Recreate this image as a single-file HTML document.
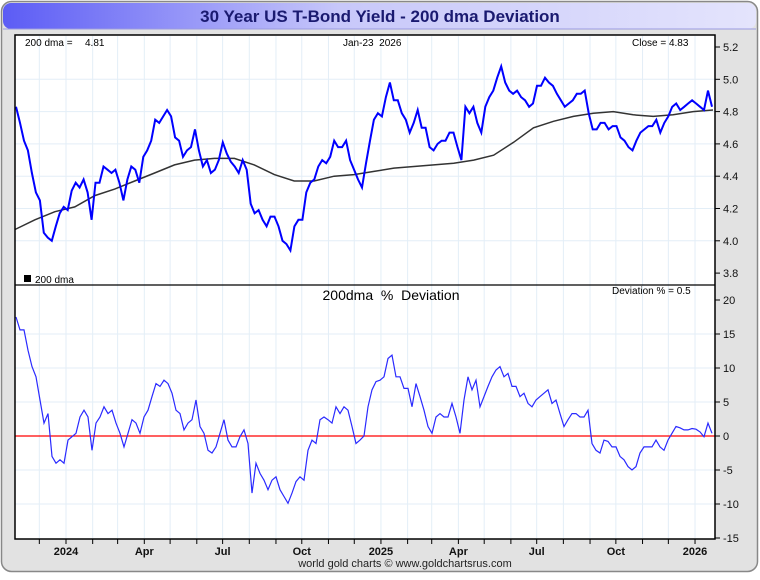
<!DOCTYPE html>
<html><head><meta charset="utf-8"><style>
body{margin:0;width:760px;height:575px;overflow:hidden;background:#fff;font-family:"Liberation Sans",sans-serif}
</style></head><body>
<svg id="c" width="760" height="575" xmlns="http://www.w3.org/2000/svg">
<defs><linearGradient id="tg" x1="0" x2="1"><stop offset="0" stop-color="#5c5cf5"/><stop offset="0.45" stop-color="#c8c8fa"/><stop offset="1" stop-color="#e4e4fc"/></linearGradient></defs>
<rect x="1.5" y="1.5" width="756" height="570" rx="10" fill="#e2e2e2" stroke="#888" stroke-width="1.5"/>
<rect x="3" y="3" width="753" height="26" rx="8" fill="url(#tg)"/>
<line x1="3" y1="29" x2="756" y2="29" stroke="#9a9ae0"/>
<text x="380" y="22" text-anchor="middle" font-size="17" font-weight="bold" fill="#1a1a70">30 Year US T-Bond Yield - 200 dma Deviation</text>
<rect x="15" y="35" width="700" height="504" fill="#fff"/>
<g id="grid"></g>
<g id="marks"></g>
<rect x="15" y="35" width="700" height="504" fill="none" stroke="#000" stroke-width="1.5"/>
<line x1="15" y1="285" x2="715" y2="285" stroke="#000" stroke-width="1.2"/>
<g id="axes" font-size="11" fill="#111"></g>
<text x="25" y="46" font-size="10">200 dma =<tspan x="85">4.81</tspan></text>
<text x="343" y="46" font-size="10">Jan-23&#160;&#160;2026</text>
<text x="632" y="46" font-size="10">Close = 4.83</text>
<rect x="24" y="275" width="7" height="7" fill="#000"/>
<text x="35" y="283" font-size="10">200 dma</text>
<text x="391" y="300" font-size="14" text-anchor="middle">200dma&#160;&#160;%&#160;&#160;Deviation</text>
<text x="612" y="294" font-size="10">Deviation % = 0.5</text>
<text x="405" y="567" font-size="11" text-anchor="middle" fill="#222">world gold charts © www.goldchartsrus.com</text>
</svg>
<script>
const priceClose=[4.83,4.73,4.62,4.56,4.42,4.30,4.25,4.05,4.02,4.00,4.09,4.17,4.21,4.19,4.31,4.36,4.33,4.38,4.30,4.13,4.36,4.36,4.46,4.44,4.42,4.44,4.36,4.25,4.38,4.46,4.44,4.36,4.52,4.56,4.62,4.75,4.73,4.77,4.81,4.77,4.64,4.62,4.52,4.56,4.58,4.69,4.56,4.46,4.50,4.42,4.44,4.50,4.61,4.54,4.49,4.46,4.42,4.50,4.44,4.23,4.17,4.19,4.13,4.09,4.15,4.15,4.09,4.00,3.98,3.94,4.09,4.13,4.13,4.30,4.36,4.38,4.46,4.50,4.48,4.52,4.62,4.58,4.58,4.62,4.50,4.44,4.38,
4.33,4.48,4.62,4.75,4.79,4.77,4.89,4.98,4.87,4.87,4.79,4.75,4.67,4.73,4.81,4.70,4.70,4.58,4.56,4.60,4.62,4.62,4.67,4.67,4.58,4.50,4.83,4.79,4.83,4.73,4.67,4.83,4.89,4.93,5.01,5.08,4.98,4.93,4.91,4.93,4.89,4.87,4.83,4.85,4.96,4.96,5.01,4.98,4.96,4.91,4.87,4.83,4.85,4.87,4.91,4.91,4.93,4.79,4.69,4.69,4.73,4.73,4.69,4.71,4.71,4.64,4.62,4.58,4.56,4.62,4.67,4.69,4.71,4.71,4.75,4.67,4.73,4.77,4.83,4.85,4.81,4.83,4.85,4.87,4.85,4.83,4.81,4.93,4.83];
const dma200=[4.07,4.13,4.18,4.21,4.28,4.32,4.37,4.42,4.47,4.50,4.51,4.51,4.47,4.41,4.37,4.37,4.40,4.41,4.43,4.45,4.46,4.47,4.48,4.50,4.53,4.61,4.70,4.74,4.77,4.79,4.80,4.78,4.77,4.78,4.80,4.81];
const deviation=[17.5,15.6,15.6,12.6,10.2,8.7,5.3,1.9,3.3,-3.0,-4.0,-3.5,-4.0,-0.6,-0.1,0.4,2.8,3.8,2.8,-2.1,1.9,2.8,4.3,3.3,3.8,1.9,0.4,-1.6,0.4,2.4,1.9,0.4,2.8,3.8,5.8,7.7,7.3,8.2,7.7,6.3,3.8,3.3,0.9,1.9,2.4,5.3,1.4,0.4,-2.1,-2.5,-1.6,0.4,2.4,-0.6,-1.6,-1.6,-0.1,0.9,-1.1,-8.4,-4.0,-5.5,-6.5,-7.9,-6.5,-6.0,-7.9,-8.9,-9.9,-8.4,-6.7,-6.0,-6.5,-2.1,-0.6,-1.1,2.4,2.8,2.4,1.9,4.3,3.3,4.3,3.8,1.4,-1.1,-0.6,
0.0,4.3,6.8,8.0,8.2,8.7,11.4,11.9,8.7,8.7,7.0,7.0,4.3,7.7,5.8,3.8,1.4,0.4,2.8,3.3,2.8,2.8,4.8,2.8,0.4,5.3,8.7,6.8,8.2,4.3,5.8,7.3,8.7,9.7,10.2,8.7,9.2,7.3,7.3,5.8,6.3,4.8,4.3,5.3,5.8,6.3,6.8,4.8,5.3,3.3,1.4,2.4,3.3,3.3,2.8,2.8,3.8,-1.1,-2.1,-2.5,-0.6,-0.8,-1.6,-1.6,-3.0,-3.5,-4.5,-5.0,-4.5,-2.5,-1.6,-1.6,-1.6,-0.6,-1.6,-2.1,-0.6,0.4,1.4,1.2,0.9,0.9,1.1,1.0,0.6,-0.1,1.9,0.4];
const priceTicks=[3.8,4.0,4.2,4.4,4.6,4.8,5.0,5.2];
const devTicks=[-15,-10,-5,0,5,10,15,20];
const monthLabels=[["2024",0],["Apr",3],["Jul",6],["Oct",9],["2025",12],["Apr",15],["Jul",18],["Oct",21],["2026",24]];

const NS="http://www.w3.org/2000/svg";
const L=15,R=715;
const yP=v=>47+(5.2-v)/0.2*32.3;
const yD=v=>436-v*6.8;
const xI=(i,n,a,b)=>a+(b-a)*i/(n-1);
const xMonth=m=>{const d=new Date(Date.UTC(2024,m,1));return 66+(d-Date.UTC(2024,0,1))/864e5*0.8605;};
function mk(t,a,p){const e=document.createElementNS(NS,t);for(const k in a)e.setAttribute(k,a[k]);p.appendChild(e);return e;}
const grid=document.getElementById('grid'),marks=document.getElementById('marks'),axes=document.getElementById('axes');
for(let m=-1;m<=24;m++){const x=xMonth(m);if(x<=L||x>=R)continue;
 const g=mk('line',{x1:x,y1:36,x2:x,y2:538,stroke:'#e3eef7','stroke-width':1},grid);
 
 
 const t=mk('line',{x1:x,y1:539,x2:x,y2:544,stroke:'#000'},axes);
 
 }
monthLabels.forEach(([s,m])=>{const t=mk('text',{x:xMonth(m),y:555,'text-anchor':'middle','font-weight':'bold','font-size':11},axes);t.textContent=s;
 
 });
priceTicks.forEach(v=>{const y=yP(v);
 if(v<5.2&&v>3.8){const g=mk('line',{x1:L,y1:y,x2:R,y2:y,stroke:'#e3eef7'},grid);}
 const tk=mk('line',{x1:R,y1:y,x2:R+5,y2:y,stroke:'#000'},axes);
 const t=mk('text',{x:R+8,y:y+4,'font-size':11},axes);t.textContent=v.toFixed(1);
 
 });
devTicks.forEach(v=>{const y=yD(v);
 if(v<20&&v>-15){const g=mk('line',{x1:L,y1:y,x2:R,y2:y,stroke:'#e3eef7'},grid);}
 const tk=mk('line',{x1:R,y1:y,x2:R+5,y2:y,stroke:'#000'},axes);
 const t=mk('text',{x:R+8,y:y+4,'font-size':11},axes);t.textContent=String(v);
 
 });
const pts=(arr,a,b,f)=>arr.map((v,i)=>xI(i,arr.length,a,b).toFixed(1)+','+f(v).toFixed(1)).join(' ');
const dl=mk('polyline',{points:pts(dma200,15,713,yP),fill:'none',stroke:'#333','stroke-width':1.5},marks);


const pl=mk('polyline',{points:pts(priceClose,16,712,yP),fill:'none',stroke:'#0000ff','stroke-width':2},marks);


const zl=mk('line',{x1:L,y1:yD(0),x2:R,y2:yD(0),stroke:'#ff0000','stroke-width':1.3},marks);


const dv=mk('polyline',{points:pts(deviation,16,712,yD),fill:'none',stroke:'#2a2aff','stroke-width':1.2},marks);


</script>
</body></html>
